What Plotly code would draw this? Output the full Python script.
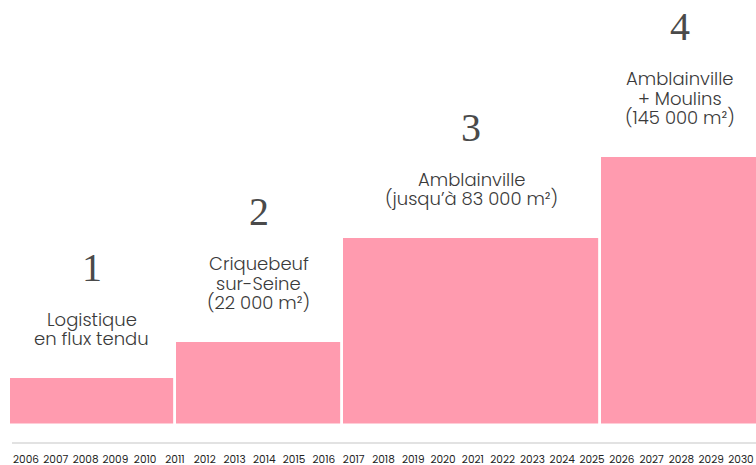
import plotly.graph_objects as go

# Data
phase_numbers = ["1", "2", "3", "4"]
phase_labels = [
    ["Logistique", "en flux tendu"],
    ["Criquebeuf", "sur-Seine", "(22 000 m²)"],
    ["Amblainville", "(jusqu’à 83 000 m²)"],
    ["Amblainville", "+ Moulins", "(145 000 m²)"],
]
phase_start = [2005.43, 2011.0, 2016.62, 2025.28]
phase_end = [2011.0, 2016.62, 2025.28, 2030.6]
phase_value = [48, 84, 188, 269]
years = list(range(2006, 2031))

BAR = "#FF9BAF"
TXT = "#3a3a3a"
SANS = "Poppins, Open Sans, sans-serif"
SERIF = "Liberation Serif, DejaVu Serif, serif"

centers = [(s + e) / 2 for s, e in zip(phase_start, phase_end)]
widths = [e - s for s, e in zip(phase_start, phase_end)]

fig = go.Figure()
fig.add_trace(go.Bar(
    x=centers, y=phase_value, width=widths,
    marker=dict(color=BAR, line=dict(color="white", width=2.6)),
    hoverinfo="skip",
))

LINE_H = 19.5
BOTTOM_OFF = 38
for c, v, lines, num in zip(centers, phase_value, phase_labels, phase_numbers):
    n = len(lines)
    for i, ln in enumerate(lines):
        fig.add_annotation(
            x=c, y=v, xref="x", yref="y", text=ln, showarrow=False,
            yanchor="middle", yshift=BOTTOM_OFF + (n - 1 - i) * LINE_H,
            font=dict(family=SANS, size=18, color=TXT, weight=300),
        )
    fig.add_annotation(
        x=c, y=v, xref="x", yref="y", text=num, showarrow=False,
        yanchor="middle", yshift=BOTTOM_OFF + (n - 1) * LINE_H + 52,
        font=dict(family=SERIF, size=40, color="#4a4a4a"),
    )

# axis baseline (starts slightly right of the left edge, as in the reference)
fig.add_shape(type="line", xref="x", yref="paper", x0=2005.53, x1=2030.504,
              y0=0, y1=0, line=dict(color="#e2e2e2", width=2))

fig.update_layout(
    width=756, height=465,
    margin=dict(l=0, r=0, t=0, b=22, autoexpand=False),
    plot_bgcolor="white", paper_bgcolor="white",
    showlegend=False, bargap=0,
    xaxis=dict(
        range=[2005.127, 2030.504], automargin=False,
        tickmode="array", tickvals=years, ticktext=[str(y) for y in years],
        showgrid=False, zeroline=False, showline=False,
        ticks="outside", ticklen=6, tickcolor="rgba(0,0,0,0)",
        tickfont=dict(family=SANS, size=10.5, color="#222"),
        fixedrange=True,
    ),
    yaxis=dict(
        range=[-18.5, 424.5], visible=False, showgrid=False, zeroline=False,
        fixedrange=True, automargin=False,
    ),
)

fig.write_html("out.html", config={"displayModeBar": False},
               post_script="document.body.style.margin='0';")
